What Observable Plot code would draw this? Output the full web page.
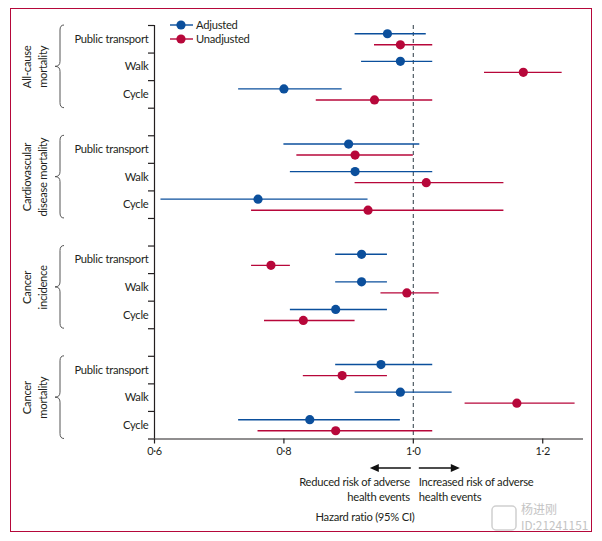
<!DOCTYPE html>
<html><head><meta charset="utf-8">
<script src="https://cdn.jsdelivr.net/npm/d3@7"></script>
<script src="https://cdn.jsdelivr.net/npm/@observablehq/plot@0.6"></script>
<style>
body{margin:0;background:#fff;}
#wrap{position:relative;width:602px;height:541px;}
#border{position:absolute;left:10px;top:8px;width:580px;height:522px;border:1.5px solid #b5083a;pointer-events:none;}
</style></head><body>
<div id="wrap"><div id="chart"></div><div id="border"></div></div>
<script>
const groups = ["All-cause\nmortality", "Cardiovascular\ndisease mortality", "Cancer\nincidence", "Cancer\nmortality"];
const exposures = ["Public transport", "Walk", "Cycle"];
const series = ["Adjusted", "Unadjusted"];
const xTicks = [0.6, 0.8, 1.0, 1.2];
// order: group-major, then Public transport, Walk, Cycle
const adjustedHR = [0.96, 0.98, 0.80, 0.90, 0.91, 0.76, 0.92, 0.92, 0.88, 0.95, 0.98, 0.84];
const adjustedLo = [0.91, 0.92, 0.73, 0.80, 0.81, 0.61, 0.88, 0.88, 0.81, 0.88, 0.91, 0.73];
const adjustedHi = [1.02, 1.03, 0.89, 1.01, 1.03, 0.93, 0.96, 0.96, 0.96, 1.03, 1.06, 0.98];
const unadjustedHR = [0.98, 1.17, 0.94, 0.91, 1.02, 0.93, 0.78, 0.99, 0.83, 0.89, 1.16, 0.88];
const unadjustedLo = [0.94, 1.11, 0.85, 0.82, 0.91, 0.75, 0.75, 0.95, 0.77, 0.83, 1.08, 0.76];
const unadjustedHi = [1.03, 1.23, 1.03, 1.00, 1.14, 1.14, 0.81, 1.04, 0.91, 0.96, 1.25, 1.03];

const FONT = "Lato, 'Open Sans', sans-serif";
const FS = 11.2;
const INK = "#231f20";
const rowsPerGroup = exposures.length + 1;
const nRows = groups.length * rowsPerGroup - 1;

const data = [];
const labelRows = [];
groups.forEach((g, gi) => {
  exposures.forEach((e, ei) => {
    const i = gi * exposures.length + ei;
    const row = gi * rowsPerGroup + ei + 0.5;
    labelRows.push({exposure: e, row});
    data.push({group: g, exposure: e, series: series[0], hr: adjustedHR[i], lo: adjustedLo[i], hi: adjustedHi[i], y: row - 0.2});
    data.push({group: g, exposure: e, series: series[1], hr: unadjustedHR[i], lo: unadjustedLo[i], hi: unadjustedHi[i], y: row + 0.2});
  });
});
const groupRows = groups.map((g, gi) => ({group: g, center: gi * rowsPerGroup + exposures.length / 2, start: gi * rowsPerGroup, end: gi * rowsPerGroup + exposures.length}));
const boundaries = d3.range(0, nRows + 1);
const xMax = 1.263;

const plot = Plot.plot({
  width: 602, height: 541,
  marginLeft: 154, marginRight: 19, marginTop: 25, marginBottom: 102.5,
  style: {fontFamily: FONT, fontSize: FS + "px", color: INK, background: "transparent", letterSpacing: "-0.25px"},
  x: {domain: [0.6, xMax]},
  y: {domain: [0, nRows], range: [25, 438.5]},
  color: {domain: series, range: ["#0b4f9c", "#b7073a"]},
  marks: [
    Plot.ruleX([0.6], {y1: 0, y2: nRows, stroke: INK, strokeWidth: 1.2}),
    Plot.axisY({ticks: boundaries, tickSize: 6, tickFormat: () => "", label: null, stroke: INK, strokeWidth: 1.2}),
    Plot.ruleY([nRows], {x1: 0.6, x2: xMax, stroke: INK, strokeWidth: 1.2}),
    Plot.axisX({ticks: xTicks, tickSize: 5, tickPadding: 3, tickFormat: d => d.toFixed(1).replace(".", "·"), label: null, stroke: INK, strokeWidth: 1.2, fontSize: FS - 0.3}),
    Plot.ruleX([1], {y1: 0, y2: nRows, stroke: "#4d5a63", strokeWidth: 1.2, strokeDasharray: "4,3"}),
    Plot.text(labelRows, {x: 0.6, y: "row", text: "exposure", textAnchor: "end", dx: -6, fill: INK, fontSize: FS}),
    Plot.text(groupRows, {x: 0.6, y: "center", text: "group", rotate: -90, dx: -121, lineHeight: 1.45, fill: INK, fontSize: FS}),
    Plot.ruleY(data, {y: "y", x1: "lo", x2: "hi", stroke: "series", strokeWidth: 1.4}),
    Plot.dot(data, {x: "hr", y: "y", fill: "series", r: 4.6})
  ]
});
document.getElementById("chart").appendChild(plot);

const svg = d3.select(plot);
const xs = plot.scale("x"), ys = plot.scale("y");
const X = v => xs.apply(v), Y = v => ys.apply(v);

// braces
groupRows.forEach(g => {
  const y0 = Y(g.start), y1 = Y(g.end), m = (y0 + y1) / 2;
  const xr = 64, xv = 60, xt = 55;
  svg.append("path")
    .attr("d", `M${xr},${y0} Q${xv},${y0} ${xv},${y0+5} L${xv},${m-5} Q${xv},${m} ${xt},${m} Q${xv},${m} ${xv},${m+5} L${xv},${y1-5} Q${xv},${y1} ${xr},${y1}`)
    .attr("fill", "none").attr("stroke", "#555").attr("stroke-width", 1);
});

const t = (x, y, s, anchor, opts = {}) => svg.append("text").attr("x", x).attr("y", y).attr("dy", "0.35em")
  .attr("text-anchor", anchor).attr("fill", opts.fill || INK).attr("font-size", opts.size || FS)
  .attr("font-family", opts.family || FONT).attr("letter-spacing", opts.ls || null).text(s);

// legend
series.forEach((s, i) => {
  const yy = 25 + i * 14;
  const c = plot.scale("color").apply(s);
  svg.append("line").attr("x1", 170).attr("x2", 193).attr("y1", yy).attr("y2", yy).attr("stroke", c).attr("stroke-width", 1.4);
  svg.append("circle").attr("cx", 181).attr("cy", yy).attr("r", 4.6).attr("fill", c);
  t(196, yy, s, "start");
});

// arrows
const x1 = X(1), ay = 468;
function arrow(xa, xb) {
  const dir = Math.sign(xb - xa);
  svg.append("line").attr("x1", xa).attr("x2", xb - dir * 7).attr("y1", ay).attr("y2", ay).attr("stroke", "#111").attr("stroke-width", 1.3);
  svg.append("path").attr("d", `M${xb},${ay} L${xb - dir * 9},${ay - 4} L${xb - dir * 9},${ay + 4} Z`).attr("fill", "#111");
}
arrow(x1 - 2, x1 - 43);
arrow(x1 + 6, x1 + 47);
t(x1 - 3, 482, "Reduced risk of adverse", "end");
t(x1 - 3, 497, "health events", "end");
t(x1 + 6, 482, "Increased risk of adverse", "start");
t(x1 + 6, 497, "health events", "start");
t(365, 517, "Hazard ratio (95% CI)", "middle");

// watermark
svg.append("rect").attr("x", 492).attr("y", 506).attr("width", 24).attr("height", 24).attr("rx", 4).attr("fill", "none").attr("stroke", "#d0d0d0").attr("stroke-width", 1.5);
const wm = {fill: "#c4c4c4", family: "'Noto Sans CJK SC', sans-serif", ls: "0px"};
t(521, 510, "杨进刚", "start", {...wm, size: 12});
t(521, 526, "ID:21241151", "start", {...wm, size: 11.8});
</script>
</body></html>
